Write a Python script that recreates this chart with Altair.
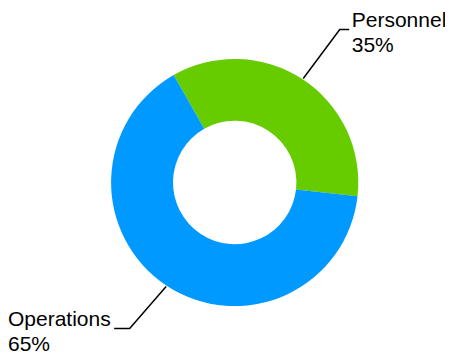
import math
import altair as alt
import pandas as pd

# ---- data ----
categories = ["Personnel", "Operations"]
values = [35, 65]
colors = ["#66CC00", "#0099FF"]

# ---- layout constants ----
W, H = 437, 346
START = 2 * math.pi - 0.5166     # start angle of first slice (radians, clockwise from 12 o'clock)
CX, CY = 226.7, 174.5             # pie centre inside the view
R_OUT, R_IN = 123.6, 61.7
R_START = 124.5                   # where the connector leaves the slice
R_ELBOW = 185.5
ELBOW_TURN = 0.019                # connector leans slightly clockwise
HLEN_R, HLEN_L = 9.5, 15.5
FONT = "Liberation Sans"
FS, LH = 21, 25.5
TY_MAX = H - 3 - LH               # keep the last label line inside the chart

df = pd.DataFrame({"category": categories, "value": values,
                   "order": list(range(len(categories)))})

arc = alt.Chart(df).mark_arc(outerRadius=R_OUT, innerRadius=R_IN).encode(
    theta=alt.Theta("value:Q", stack=True,
                    scale=alt.Scale(range=[START, START + 2 * math.pi])),
    color=alt.Color("category:N",
                    scale=alt.Scale(domain=categories, range=colors), legend=None),
    order=alt.Order("order:Q"),
    x=alt.value(CX),
    y=alt.value(CY),
)

calc = (
    alt.Chart(df)
    .transform_joinaggregate(total="sum(value)")
    .transform_window(cum="sum(value)", sort=[alt.SortField("order")], frame=[None, 0])
    .transform_calculate(
        a=f"{START} + 2*PI*(datum.cum - datum.value/2)/datum.total",
        pct="round(100*datum.value/datum.total) + '%'",
    )
    .transform_calculate(
        ox=f"{CX} + {R_START}*sin(datum.a)",
        oy=f"{CY} - {R_START}*cos(datum.a)",
        ex=f"{CX} + {R_ELBOW}*sin(datum.a + {ELBOW_TURN})",
        ey0=f"{CY} - {R_ELBOW}*cos(datum.a + {ELBOW_TURN})",
        side="sin(datum.a) >= 0 ? 1 : -1",
    )
    .transform_calculate(
        ty=f"min(datum.ey0 - 3, {TY_MAX})",
    )
    .transform_calculate(
        ey="datum.ty + 3",
        hx=f"datum.side > 0 ? datum.ex + {HLEN_R} : datum.ex - {HLEN_L}",
    )
    .transform_calculate(
        tx="datum.side > 0 ? datum.hx + 2.5 : 0",
        lbl="datum.category + '\\n' + datum.pct",
    )
)

leader = (
    calc.transform_calculate(pts="[0, 1, 2]")
    .transform_flatten(["pts"])
    .transform_calculate(
        px="datum.pts == 0 ? datum.ox : (datum.pts == 1 ? datum.ex : datum.hx)",
        py="datum.pts == 0 ? datum.oy : datum.ey",
    )
    .mark_line(color="black", strokeWidth=1.5, strokeJoin="miter")
    .encode(
        x=alt.X("px:Q", scale=None, axis=None),
        y=alt.Y("py:Q", scale=None, axis=None),
        detail="category:N",
        order="pts:Q",
    )
)

text = calc.mark_text(
    align="left", baseline="alphabetic", fontSize=FS, font=FONT,
    lineHeight=LH, lineBreak="\n", color="black",
).encode(
    x=alt.X("tx:Q", scale=None, axis=None),
    y=alt.Y("ty:Q", scale=None, axis=None),
    text="lbl:N",
)

chart = (
    alt.layer(arc, leader, text)
    .properties(width=W, height=H, padding=0,
                autosize=alt.AutoSizeParams(type="none"))
    .configure_view(stroke=None)
)

chart.save("out.html", embed_options={"renderer": "svg", "actions": False})
